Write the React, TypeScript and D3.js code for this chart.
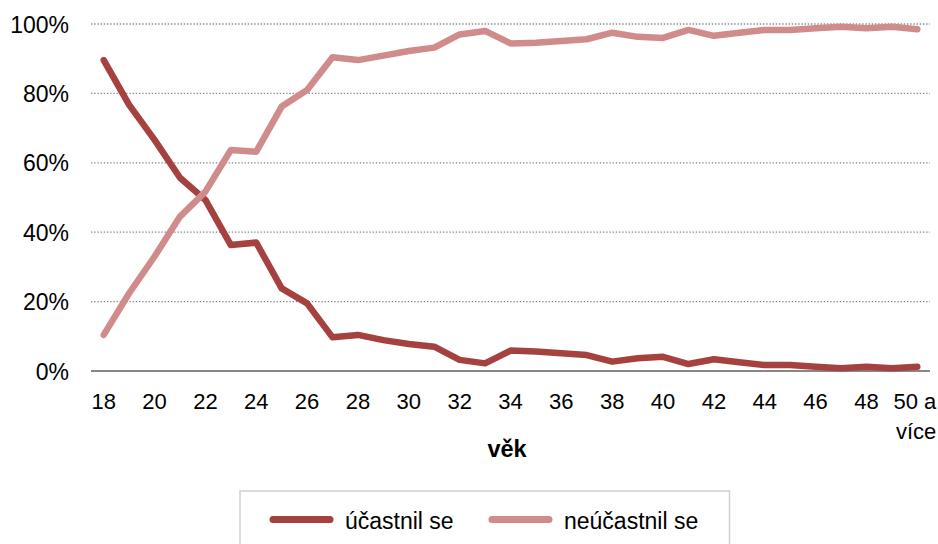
import React from "react";
import * as d3 from "d3";

const categories: string[] = [
  "18","19","20","21","22","23","24","25","26","27","28","29","30","31","32","33",
  "34","35","36","37","38","39","40","41","42","43","44","45","46","47","48","49","50 a více",
];
const tickLabels: string[] = [
  "18","20","22","24","26","28","30","32","34","36","38","40","42","44","46","48","50 a více",
];
const ucastnil: number[] = [
  89.6, 76.7, 66.6, 55.7, 49.3, 36.3, 37.0, 23.8, 19.5, 9.7, 10.4, 8.9, 7.8, 7.0, 3.2, 2.2,
  5.9, 5.6, 5.1, 4.6, 2.7, 3.7, 4.1, 2.0, 3.4, 2.5, 1.7, 1.7, 1.2, 0.8, 1.2, 0.8, 1.2,
];
const neucastnil: number[] = [
  10.4, 22.4, 33.0, 44.5, 51.7, 63.7, 63.2, 76.2, 81.0, 90.4, 89.6, 90.9, 92.2, 93.2, 97.0, 98.0,
  94.4, 94.6, 95.1, 95.6, 97.5, 96.3, 96.0, 98.3, 96.6, 97.5, 98.3, 98.3, 98.8, 99.2, 98.8, 99.2, 98.5,
];
const yTicks: number[] = [0, 20, 40, 60, 80, 100];
const seriesNames: string[] = ["účastnil se", "neúčastnil se"];
const colors: string[] = ["#A5423F", "#D08C8B"];

export default function App() {
  const W = 938, H = 544;
  const left = 91, right = 930, top = 24, bottom = 371;
  const x = d3.scaleBand<string>().domain(categories).range([left, right]).padding(0);
  const y = d3.scaleLinear().domain([0, 100]).range([bottom, top]);
  const cx = (c: string) => (x(c) as number) + x.bandwidth() / 2;
  const line = d3
    .line<number>()
    .x((_, i) => cx(categories[i]))
    .y((d) => y(d));
  const font = "Liberation Sans, Arial, sans-serif";
  const series = [ucastnil, neucastnil];
  const legendX = [273, 492];

  return (
    <svg
      width={W}
      height={H}
      style={{ position: "absolute", left: 0, top: 0, background: "#fff" }}
      fontFamily={font}
    >
      {yTicks.filter((t) => t > 0).map((t) => (
        <line
          key={"g" + t}
          x1={left}
          x2={right}
          y1={y(t)}
          y2={y(t)}
          stroke="#808080"
          strokeWidth={1.3}
          strokeDasharray="1.3,1.9"
        />
      ))}
      {yTicks.map((t) => (
        <text key={"y" + t} x={69} y={y(t) + 8.5} textAnchor="end" fontSize={23} fill="#000">
          {t}%
        </text>
      ))}
      <line x1={left} x2={right} y1={y(0)} y2={y(0)} stroke="#878787" strokeWidth={2} />
      {tickLabels.map((t) => {
        if (t === "50 a více") {
          const xe = cx(t) + 19;
          return (
            <g key={t}>
              <text x={xe} y={408.5} textAnchor="end" fontSize={22} fill="#000">50 a</text>
              <text x={xe} y={438.5} textAnchor="end" fontSize={22} fill="#000">více</text>
            </g>
          );
        }
        return (
          <text key={t} x={cx(t)} y={408.5} textAnchor="middle" fontSize={22} fill="#000">
            {t}
          </text>
        );
      })}
      <text x={507} y={456.5} textAnchor="middle" fontSize={23.5} fontWeight="bold" fill="#000">
        věk
      </text>
      {series.map((s, i) => (
        <path
          key={"s" + i}
          d={line(s) as string}
          fill="none"
          stroke={colors[i]}
          strokeWidth={6.5}
          strokeLinejoin="round"
          strokeLinecap="round"
        />
      ))}
      <rect x={240} y={491} width={489.5} height={60} fill="#fff" stroke="#d0d0d0" strokeWidth={1.5} />
      {seriesNames.map((n, i) => (
        <g key={n}>
          <line
            x1={legendX[i]}
            x2={legendX[i] + 57}
            y1={519.5}
            y2={519.5}
            stroke={colors[i]}
            strokeWidth={7}
            strokeLinecap="round"
          />
          <text x={legendX[i] + 72} y={528.5} fontSize={23} fill="#000">
            {n}
          </text>
        </g>
      ))}
    </svg>
  );
}
